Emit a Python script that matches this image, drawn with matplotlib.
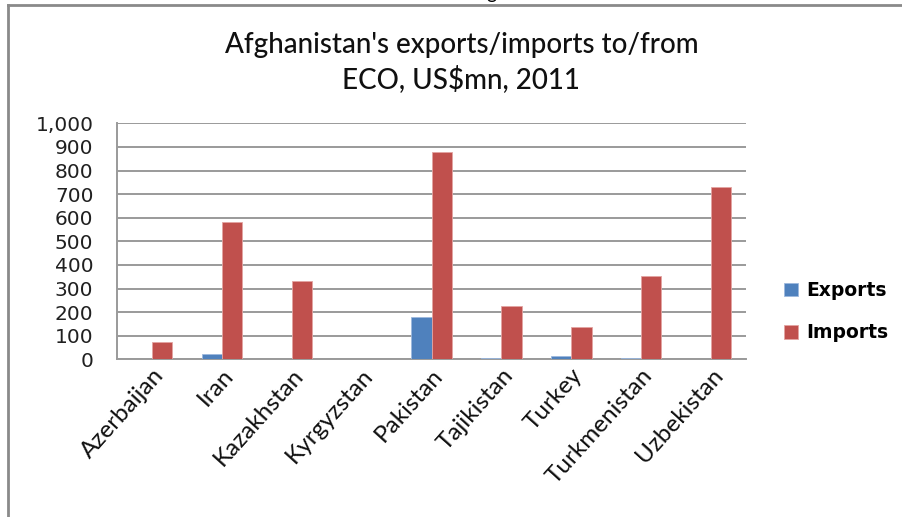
import matplotlib
matplotlib.use('Agg')
import matplotlib.pyplot as plt
import numpy as np
from matplotlib.lines import Line2D

# Afghanistan trade with ECO members, 2011 (US$ mn)
countries = ['Azerbaijan', 'Iran', 'Kazakhstan', 'Kyrgyzstan', 'Pakistan',
             'Tajikistan', 'Turkey', 'Turkmenistan', 'Uzbekistan']
exports = [0, 24, 0, 0, 180, 6, 12, 6, 0]
imports = [72, 583, 333, 0, 877, 225, 138, 354, 729]
yticks = [0, 100, 200, 300, 400, 500, 600, 700, 800, 900, 1000]

fig = plt.figure(figsize=(9.03, 5.17), dpi=100)
ax = fig.add_axes([0.1296, 0.3050, 0.6966, 0.4565])

x = np.arange(len(countries))
w = 0.29
ax.bar(x - w / 2, exports, w, color='#4F81BD', edgecolor='#9DB9DE', linewidth=0.6,
       label='Exports', zorder=3)
ax.bar(x + w / 2, imports, w, color='#C0504D', edgecolor='#E3A4A2', linewidth=0.6,
       label='Imports', zorder=3)

ax.set_xlim(-0.5, len(countries) - 0.5)
ax.set_ylim(0, 1000)
ax.set_yticks(yticks)
ax.set_yticklabels([f'{v:,}' for v in yticks], fontsize=14.5, family='DejaVu Sans',
                   color='#202020')
ax.tick_params(axis='y', length=0, pad=17)
ax.yaxis.grid(True, color='#9a9a9a', linewidth=1.4, zorder=0)

ax.set_xticks(x)
ax.set_xticklabels(countries, rotation=48, ha='right', rotation_mode='anchor',
                   fontsize=17.5, family='Lato', color='#101010')
ax.tick_params(axis='x', length=0, pad=4)

for side in ['top', 'right']:
    ax.spines[side].set_visible(False)
for side in ['left', 'bottom']:
    ax.spines[side].set_color('#9a9a9a')
    ax.spines[side].set_linewidth(1.4)

fig.text(0.511, 0.879, "Afghanistan's exports/imports to/from\nECO, US$mn, 2011",
         ha='center', va='center', fontsize=20, family='Lato', weight='medium',
         linespacing=1.3, color='#101010')

leg = fig.legend(loc='upper left', bbox_to_anchor=(0.849, 0.489), frameon=False,
                 handlelength=0.75, handleheight=0.75, handletextpad=0.45,
                 labelspacing=1.25, prop={'family': 'DejaVu Sans', 'size': 13.5,
                                          'weight': 'semibold'})

# outer frame and the clipped caption letter above it
fig.add_artist(Line2D([8 / 903, 8 / 903], [0, 1 - 5 / 517], color='#8a8a8a', lw=2))
fig.add_artist(Line2D([8 / 903, 1], [1 - 5 / 517, 1 - 5 / 517], color='#8a8a8a', lw=2))
fig.text(491 / 903, 1 + 1 / 517, 'g', ha='center', va='baseline', fontsize=14,
         family='Lato')

fig.savefig('out.png', dpi=100)
